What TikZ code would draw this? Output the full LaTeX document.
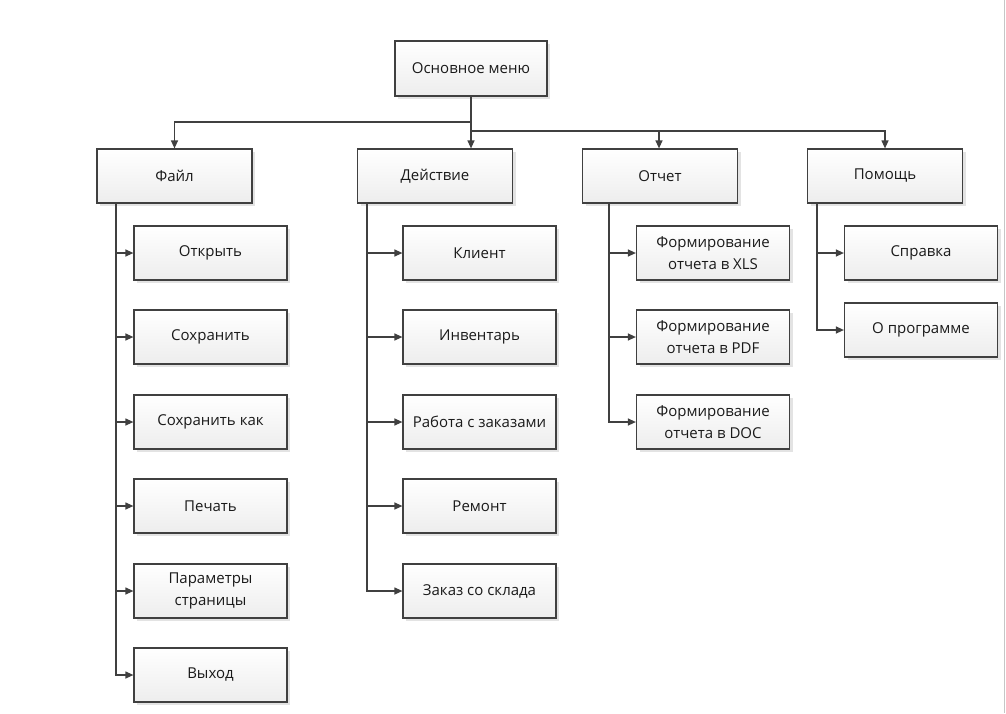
\documentclass[tikz,border=0pt]{standalone}
\usepackage{fontspec}
\setmainfont{Open Sans}
\usetikzlibrary{arrows.meta,shadows}
\definecolor{lc}{HTML}{404040}
\definecolor{tc}{HTML}{1A1A1A}
\tikzset{
  box/.style={draw=lc, line width=1.2pt, top color=white, bottom color=gray!14,
    text=tc, align=center, inner sep=0pt,
    font=\fontsize{15}{22}\selectfont,
    general shadow={fill=gray!22, shadow xshift=3pt, shadow yshift=-3pt}},
  top/.style={box, minimum width=152pt, minimum height=55pt},
  lvl/.style={box, minimum width=155pt, minimum height=54pt},
  sub/.style={box, minimum width=153pt, minimum height=54pt},
  arr/.style={draw=lc, line width=1.2pt, -{Triangle[length=8pt,width=7pt]}}
}
\begin{document}
\begin{tikzpicture}[x=1pt,y=-1pt]
\useasboundingbox (0,0) rectangle (1006,713);
\fill[white] (0,0) rectangle (1006,713);
\draw[gray!45, line width=1.5pt] (1004.5,0) -- (1004.5,713);

\node[top] (root) at (471,68.5) {Основное меню};

\node[lvl] (file) at (174.5,176) {Файл};
\node[lvl] (act)  at (435,176)   {Действие};
\node[lvl] (rep)  at (660,176)   {Отчет};
\node[lvl] (help) at (885,176)   {Помощь};

\node[sub] (f1) at (210.5,253) {Открыть};
\node[sub] (f2) at (210.5,337) {Сохранить};
\node[sub] (f3) at (210.5,422) {Сохранить как};
\node[sub] (f4) at (210.5,506) {Печать};
\node[sub] (f5) at (210.5,591) {Параметры\\страницы};
\node[sub] (f6) at (210.5,675) {Выход};

\node[sub] (a1) at (479.5,253) {Клиент};
\node[sub] (a2) at (479.5,337) {Инвентарь};
\node[sub] (a3) at (479.5,422) {Работа с заказами};
\node[sub] (a4) at (479.5,506) {Ремонт};
\node[sub] (a5) at (479.5,591) {Заказ со склада};

\node[sub] (r1) at (713,253) {Формирование\\отчета в XLS};
\node[sub] (r2) at (713,337) {Формирование\\отчета в PDF};
\node[sub] (r3) at (713,422) {Формирование\\отчета в DOC};

\node[sub] (h1) at (921,253) {Справка};
\node[sub] (h2) at (921,330) {О программе};

% top-level connectors
\coordinate (j1) at (471,122);
\coordinate (j2) at (471,131);
\draw[arr] (root.south) -- (root.south |- act.north);
\draw[arr] (j1) -| (file.north);
\draw[arr] (j2) -| ([xshift=-1pt]rep.north);
\draw[arr] (j2) -| (help.north);

% trunks
\coordinate (ft) at (116,203);
\coordinate (at) at (367,203);
\coordinate (rt) at (609,203);
\coordinate (ht) at (817,203);
\foreach \c in {f1,f2,f3,f4,f5,f6} \draw[arr] (ft) |- (\c.west);
\foreach \c in {a1,a2,a3,a4,a5} \draw[arr] (at) |- (\c.west);
\foreach \c in {r1,r2,r3} \draw[arr] (rt) |- (\c.west);
\foreach \c in {h1,h2} \draw[arr] (ht) |- (\c.west);
\end{tikzpicture}
\end{document}
